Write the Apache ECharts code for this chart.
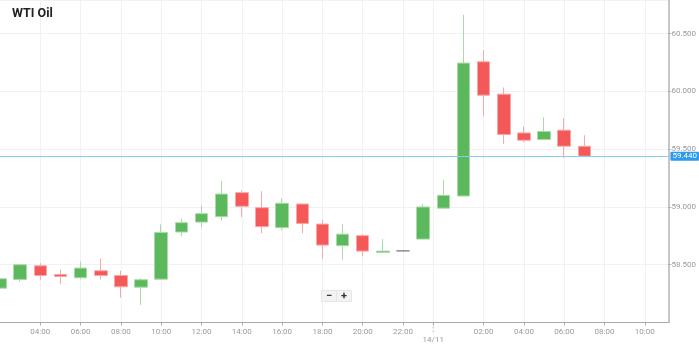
<!DOCTYPE html>
<html>
<head>
<meta charset="utf-8">
<script src="https://cdn.jsdelivr.net/npm/echarts@6/dist/echarts.min.js"></script>
<style>
html,body{margin:0;padding:0;background:#fff;}
#chart{width:699px;height:346px;}
</style>
</head>
<body>
<div id="chart"></div>
<script>
// Hours counted from 13/11 00:00
const hours = [2,3,4,5,6,7,8,9,10,11,12,13,14,15,16,17,18,19,20,21,22,23,24,25,26,27,28,29,30,31];
const opens  = [58.297,58.373,58.491,58.416,58.387,58.448,58.407,58.306,58.375,58.783,58.869,58.916,59.124,58.994,58.821,59.026,58.852,58.665,58.752,58.607,58.620,58.722,58.990,59.095,60.257,59.977,59.641,59.584,59.665,59.526];
const closes = [58.379,58.500,58.407,58.399,58.471,58.407,58.309,58.370,58.780,58.864,58.942,59.112,59.006,58.830,59.032,58.858,58.670,58.765,58.618,58.618,58.620,59.000,59.101,60.246,59.968,59.627,59.578,59.654,59.526,59.440];
const lows   = [58.280,58.355,58.370,58.332,58.373,58.373,58.214,58.153,58.372,58.745,58.826,58.884,58.913,58.774,58.797,58.774,58.552,58.543,58.572,58.605,58.620,58.720,58.986,59.093,59.789,59.546,59.561,59.582,59.425,59.438];
const highs  = [58.400,58.505,58.514,58.459,58.529,58.552,58.448,58.384,58.850,58.899,59.012,59.225,59.144,59.136,59.075,59.030,58.890,58.852,58.765,58.722,58.620,59.029,59.234,60.665,60.359,60.035,59.697,59.777,59.769,59.621];
const xTickValues = [4,6,8,10,12,14,16,18,20,22,23.5,26,28,30,32,34];
const dayBreak = 23.5;
const dayLabel = '14/11';
const yTicks = [58.5,59.0,59.5,60.0,60.5];
const lastPrice = 59.440;
const title = 'WTI Oil';

const data = hours.map((h,i)=>[h, opens[i], closes[i], lows[i], highs[i]]);

const chart = echarts.init(document.getElementById('chart'), null, {renderer:'canvas'});
const font = 'Roboto, "Open Sans", sans-serif';
chart.setOption({
  animation:false,
  title:{text:title,left:7,top:2,textStyle:{fontSize:12.5,fontWeight:'bold',color:'#222',fontFamily:font}},
  grid:{left:-3,right:28,top:0,bottom:23.5},
  xAxis:{
    type:'value', min:2, max:35.17,
    axisLine:{show:true,onZero:false,lineStyle:{color:'#aaa',width:1}},
    axisTick:{show:true,length:3,lineStyle:{color:'#aaa'},customValues:xTickValues},
    axisLabel:{customValues:xTickValues,fontSize:8,color:'#9a9a9a',fontFamily:font,margin:5,
      formatter:function(v){ if(Math.abs(v-dayBreak)<1e-6) return '\n'+dayLabel; const hh=((Math.round(v)%24)+24)%24; return (hh<10?'0':'')+hh+':00';}},
    splitLine:{show:true,lineStyle:{color:'#f1f1f1',width:1}}
  },
  yAxis:{
    type:'value', position:'right', min:58, max:60.792, interval:0.5, scale:true,
    axisLine:{show:true,lineStyle:{color:'#b3b3b3',width:1.5}},
    axisTick:{show:true,length:3,lineStyle:{color:'#b3b3b3'}},
    axisLabel:{fontSize:8,color:'#9a9a9a',fontFamily:font,margin:3,showMinLabel:false,showMaxLabel:false,
      formatter:function(v){return yTicks.some(t=>Math.abs(t-v)<1e-6)? v.toFixed(3):'';}},
    splitLine:{show:true,lineStyle:{color:'#f1f1f1',width:1}}
  },
  series:[{
    type:'candlestick',
    data:data,
    encode:{x:0,y:[1,2,3,4]},
    barWidth:13,
    itemStyle:{color:'#5cb85c',color0:'#f55858',borderColor:'#a9dba9',borderColor0:'#f9a8a8',borderColorDoji:'#8a8a8a',borderWidth:1},
    markLine:{
      symbol:'none', silent:true, animation:false,
      lineStyle:{color:'#86cdf3',width:1,type:'solid'},
      label:{show:true,position:'end',distance:2,formatter:function(){return lastPrice.toFixed(3);},
        backgroundColor:'#2d9bf0',color:'#fff',fontSize:8,fontFamily:font,padding:[1,2,0,2],borderRadius:1},
      data:[{yAxis:lastPrice}]
    }
  }]
});

// dashed extension of the day-break tick and zoom control
const px = chart.convertToPixel({xAxisIndex:0}, dayBreak);
const py = chart.convertToPixel({yAxisIndex:0}, 58);
chart.setOption({
  graphic:[
    {type:'line',shape:{x1:px,y1:py,x2:px,y2:py+10},style:{stroke:'#bbb',lineWidth:1,lineDash:[2,2]}},
    {type:'group',left:321,top:290,children:[
      {type:'rect',shape:{x:0,y:0,width:15,height:11},style:{fill:'#f3f3f3',stroke:'#e6e6e6'}},
      {type:'rect',shape:{x:15,y:0,width:15,height:11},style:{fill:'#f3f3f3',stroke:'#e6e6e6'}},
      {type:'text',x:7.5,y:5.5,style:{text:'−',fill:'#333',font:'bold 11px '+font,align:'center',verticalAlign:'middle'}},
      {type:'text',x:22.5,y:5.5,style:{text:'+',fill:'#333',font:'bold 11px '+font,align:'center',verticalAlign:'middle'}}
    ]}
  ]
});
</script>
</body>
</html>
